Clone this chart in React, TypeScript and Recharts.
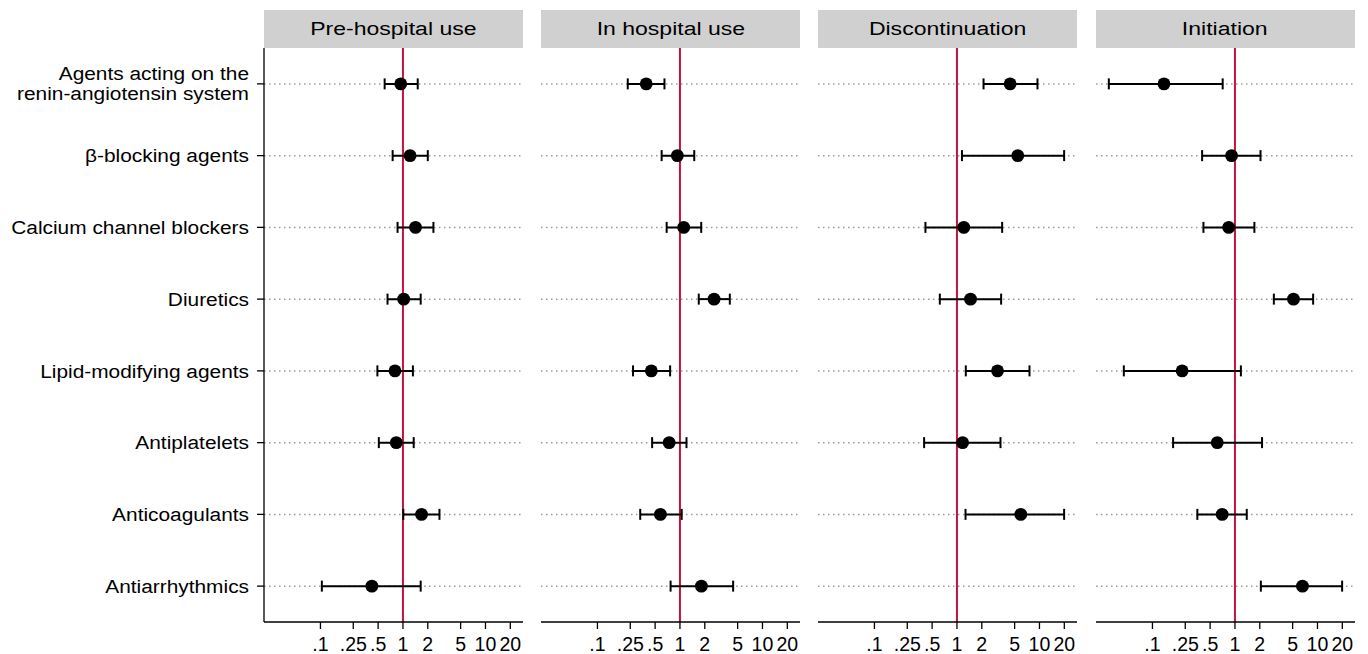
import React from 'react';
import { ScatterChart, Scatter, XAxis, YAxis, ErrorBar, ReferenceLine } from 'recharts';

const categories = [
  'Agents acting on the\nrenin-angiotensin system',
  'β-blocking agents',
  'Calcium channel blockers',
  'Diuretics',
  'Lipid-modifying agents',
  'Antiplatelets',
  'Anticoagulants',
  'Antiarrhythmics',
];

const panelTitles = ['Pre-hospital use', 'In hospital use', 'Discontinuation', 'Initiation'];

const preEst = [0.94, 1.22, 1.42, 1.02, 0.8, 0.83, 1.68, 0.42];
const preLow = [0.6, 0.75, 0.86, 0.65, 0.49, 0.51, 1.01, 0.104];
const preHigh = [1.51, 2.0, 2.34, 1.64, 1.32, 1.35, 2.77, 1.64];

const inEst = [0.39, 0.93, 1.11, 2.59, 0.45, 0.74, 0.58, 1.82];
const inLow = [0.233, 0.6, 0.69, 1.69, 0.27, 0.46, 0.33, 0.77];
const inHigh = [0.649, 1.49, 1.81, 4.02, 0.76, 1.2, 1.05, 4.41];

const discEst = [4.41, 5.46, 1.21, 1.46, 3.1, 1.17, 5.94, null];
const discLow = [2.1, 1.15, 0.415, 0.62, 1.28, 0.4, 1.27, null];
const discHigh = [9.46, 19.9, 3.53, 3.43, 7.57, 3.37, 19.9, null];

const initEst = [0.138, 0.91, 0.84, 5.12, 0.229, 0.61, 0.7, 6.58];
const initLow = [0.0296, 0.4, 0.415, 2.96, 0.045, 0.178, 0.35, 2.06];
const initHigh = [0.71, 2.04, 1.72, 8.86, 1.18, 2.13, 1.39, 19.9];

const xTicks = [0.1, 0.25, 0.5, 1, 2, 5, 10, 20];
const xTickLabels = ['.1', '.25', '.5', '1', '2', '5', '10', '20'];

const X_DOMAIN: [number, number] = [0.0207, 28.5];

const FONT = '"Liberation Sans", Arial, Helvetica, sans-serif';
const RED = '#c0143c';

type Row = { row: number; est: number; err: [number, number] };

function buildRows(est: (number | null)[], low: (number | null)[], high: (number | null)[]): Row[] {
  const out: Row[] = [];
  est.forEach((e, i) => {
    const l = low[i];
    const h = high[i];
    if (e == null || l == null || h == null) return;
    out.push({ row: i + 1, est: e, err: [e - l, h - e] });
  });
  return out;
}

const panelsData = [
  buildRows(preEst, preLow, preHigh),
  buildRows(inEst, inLow, inHigh),
  buildRows(discEst, discLow, discHigh),
  buildRows(initEst, initLow, initHigh),
];

const rowTicks = categories.map((_, i) => i + 1);

const LABEL_SIZE = 18.8;
const LABEL_STRETCH = 1.11;

const YTick = (props: any) => {
  const { x, y, payload } = props;
  const label = categories[payload.value - 1] || '';
  const lines = label.split('\n');
  return (
    <g transform={`translate(${x},${y}) scale(${LABEL_STRETCH},1)`}>
      <text textAnchor="end" fontSize={LABEL_SIZE} fill="#000" fontFamily={FONT}>
        {lines.length === 1 ? (
          <tspan x={0} y={6.7}>
            {label}
          </tspan>
        ) : (
          lines.map((ln, k) => (
            <tspan key={k} x={0} y={-3.5 + k * 20}>
              {ln}
            </tspan>
          ))
        )}
      </text>
    </g>
  );
};

const Dot = (props: any) => <circle cx={props.cx} cy={props.cy} r={6.4} fill="#000" />;

const PLOT_TOP = 48;
const PLOT_W = 259;
const PANEL_STEP = 277.2;
const FIRST_LEFT = 264;
const Y_AXIS_W = 264;

export default function App() {
  return (
    <div
      style={{
        position: 'absolute',
        left: 0,
        top: 0,
        width: 1368,
        height: 654,
        background: '#fff',
        fontFamily: FONT,
        overflow: 'hidden',
      }}
    >
      {panelsData.map((data, p) => {
        const plotLeft = FIRST_LEFT + p * PANEL_STEP;
        const isFirst = p === 0;
        const chartLeft = isFirst ? plotLeft - Y_AXIS_W : plotLeft;
        const chartWidth = (isFirst ? Y_AXIS_W : 0) + PLOT_W + 8;
        return (
          <React.Fragment key={p}>
            <div
              style={{
                position: 'absolute',
                left: plotLeft,
                top: 10,
                width: PLOT_W,
                height: 38,
                background: '#d0d0d0',
                color: '#000',
                fontSize: 19.2,
                lineHeight: '38px',
                textAlign: 'center',
                fontFamily: FONT,
              }}
            >
              <span style={{ display: 'inline-block', transform: 'scaleX(1.2)' }}>{panelTitles[p]}</span>
            </div>
            <div style={{ position: 'absolute', left: chartLeft, top: 0 }}>
              <ScatterChart
                width={chartWidth}
                height={654}
                margin={{ top: PLOT_TOP, right: 8, bottom: 2, left: 0 }}
              >
                <XAxis
                  type="number"
                  dataKey="est"
                  scale="log"
                  domain={X_DOMAIN}
                  allowDataOverflow
                  ticks={xTicks}
                  interval={0}
                  tickFormatter={(v: number) => xTickLabels[xTicks.indexOf(v)] ?? String(v)}
                  height={30}
                  tickSize={7}
                  tickMargin={8}
                  stroke="#000"
                  axisLine={{ stroke: '#000', strokeWidth: 1.3 }}
                  tickLine={{ stroke: '#000', strokeWidth: 1.3 }}
                  tick={{ fill: '#000', fontSize: 19.5, fontFamily: FONT }}
                />
                <YAxis
                  type="number"
                  dataKey="row"
                  domain={[0.5, categories.length + 0.5]}
                  reversed
                  ticks={rowTicks}
                  interval={0}
                  hide={!isFirst}
                  width={isFirst ? Y_AXIS_W : 0}
                  tickSize={7}
                  tickMargin={8}
                  axisLine={{ stroke: '#000', strokeWidth: 1.3 }}
                  tickLine={{ stroke: '#000', strokeWidth: 1.3 }}
                  tick={<YTick />}
                />
                {rowTicks.map((r) => (
                  <ReferenceLine
                    key={'g' + r}
                    y={r}
                    stroke="#9a9a9a"
                    strokeWidth={1.5}
                    strokeDasharray="1.5 3.5"
                  />
                ))}
                <ReferenceLine x={1} stroke={RED} strokeWidth={2} />
                <Scatter data={data} isAnimationActive={false} shape={<Dot />} fill="#000">
                  <ErrorBar dataKey="err" direction="x" width={5.5} stroke="#000" strokeWidth={2} />
                </Scatter>
              </ScatterChart>
            </div>
          </React.Fragment>
        );
      })}
    </div>
  );
}
